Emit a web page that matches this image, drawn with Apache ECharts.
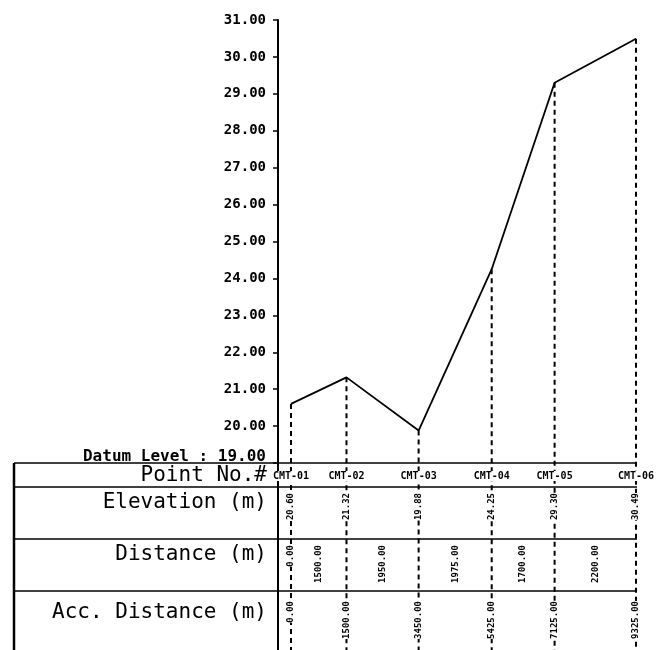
<!DOCTYPE html>
<html>
<head>
<meta charset="utf-8">
<script src="https://cdn.jsdelivr.net/npm/echarts@6/dist/echarts.min.js"></script>
<style>html,body{margin:0;padding:0;background:#fff}#c{width:657px;height:650px}</style>
</head>
<body>
<div id="c"></div>
<script>
// ---- data ----
const pointNames = ['CMT-01', 'CMT-02', 'CMT-03', 'CMT-04', 'CMT-05', 'CMT-06'];
const elevation = [20.60, 21.32, 19.88, 24.25, 29.30, 30.49];
const distance = [0.00, 1500.00, 1950.00, 1975.00, 1700.00, 2200.00];
const accDistance = [0.00, 1500.00, 3450.00, 5425.00, 7125.00, 9325.00];
const datumLevel = 19.00;
const yMax = 31.00;
const xStart = -351;   // chainage at the elevation axis (axis sits left of CMT-01)
const rowLabels = ['Point No.#', 'Elevation (m)', 'Distance (m)', 'Acc. Distance (m)'];

const chart = echarts.init(document.getElementById('c'), null, {renderer: 'canvas'});

const mono = "'DejaVu Sans Mono', 'Liberation Mono', monospace";
const rowsData = accDistance.map((a, i) => [a, elevation[i], i > 0 ? accDistance[i - 1] : a, distance[i], i]);

// table geometry (pixels)
const tableLeft = 14, axisX = 278, gridBottomY = 463;
const rowLines = [463, 487, 539, 591];

const option = {
  animation: false,
  backgroundColor: '#fff',
  grid: {left: 278, right: 21, top: 20, bottom: 187, containLabel: false},
  xAxis: {type: 'value', min: xStart, max: accDistance[accDistance.length - 1], show: false},
  yAxis: {
    type: 'value', min: datumLevel, max: yMax, interval: 1,
    splitLine: {show: false},
    axisLine: {show: true, onZero: false, lineStyle: {color: '#000', width: 2}},
    axisTick: {show: true, length: 5, lineStyle: {color: '#000', width: 1.5}},
    axisLabel: {
      margin: 12, color: '#000', fontFamily: mono, fontSize: 14, fontWeight: 'bold',
      formatter: v => v === datumLevel ? '{d|Datum Level : ' + v.toFixed(2) + '}' : v.toFixed(2),
      rich: {d: {fontFamily: mono, fontSize: 16, fontWeight: 'bold', color: '#000', padding: [0, 0, 12, 0]}}
    }
  },
  graphic: [
    {type: 'line', shape: {x1: tableLeft, y1: gridBottomY, x2: tableLeft, y2: 650}, style: {stroke: '#000', lineWidth: 2.5}},
    {type: 'line', shape: {x1: axisX, y1: gridBottomY, x2: axisX, y2: 650}, style: {stroke: '#000', lineWidth: 2}},
    ...rowLines.map(y => ({type: 'line', shape: {x1: tableLeft, y1: y, x2: 637, y2: y}, style: {stroke: '#000', lineWidth: 1.5}})),
    ...rowLabels.map((t, i) => ({
      type: 'text', x: 267, y: [476, 503, 555, 613][i],
      style: {text: t, font: '21px ' + mono, fill: '#000', align: 'right', verticalAlign: 'middle'}
    }))
  ],
  series: [
    {
      type: 'line',
      data: accDistance.map((a, i) => [a, elevation[i]]),
      symbol: 'none',
      lineStyle: {color: '#000', width: 1.8},
      z: 3
    },
    {
      type: 'custom',
      clip: false,
      data: rowsData,
      z: 2,
      renderItem: function (params, api) {
        const acc = api.value(0), elev = api.value(1), prev = api.value(2), dist = api.value(3), idx = api.value(4);
        const p = api.coord([acc, elev]);
        const mid = api.coord([(prev + acc) / 2, datumLevel]);
        const h = api.getHeight();
        const lbl = {font: 'bold 9px ' + mono, fill: '#000', align: 'right', verticalAlign: 'middle', backgroundColor: '#fff'};
        return {
          type: 'group',
          children: [
            {type: 'line', shape: {x1: p[0], y1: p[1], x2: p[0], y2: h}, style: {stroke: '#000', lineWidth: 2, lineDash: [5, 4]}},
            {type: 'text', x: p[0], y: 476, style: {text: pointNames[idx], font: 'bold 10px ' + mono, fill: '#000', align: 'center', verticalAlign: 'middle', backgroundColor: '#fff'}},
            {type: 'text', x: p[0], y: 493, rotation: Math.PI / 2, style: Object.assign({}, lbl, {text: elev.toFixed(2)})},
            {type: 'text', x: mid[0], y: 545, rotation: Math.PI / 2, style: Object.assign({}, lbl, {text: dist.toFixed(2)})},
            {type: 'text', x: p[0], y: 601, rotation: Math.PI / 2, style: Object.assign({}, lbl, {text: acc.toFixed(2)})}
          ]
        };
      }
    }
  ]
};
chart.setOption(option);
</script>
</body>
</html>
